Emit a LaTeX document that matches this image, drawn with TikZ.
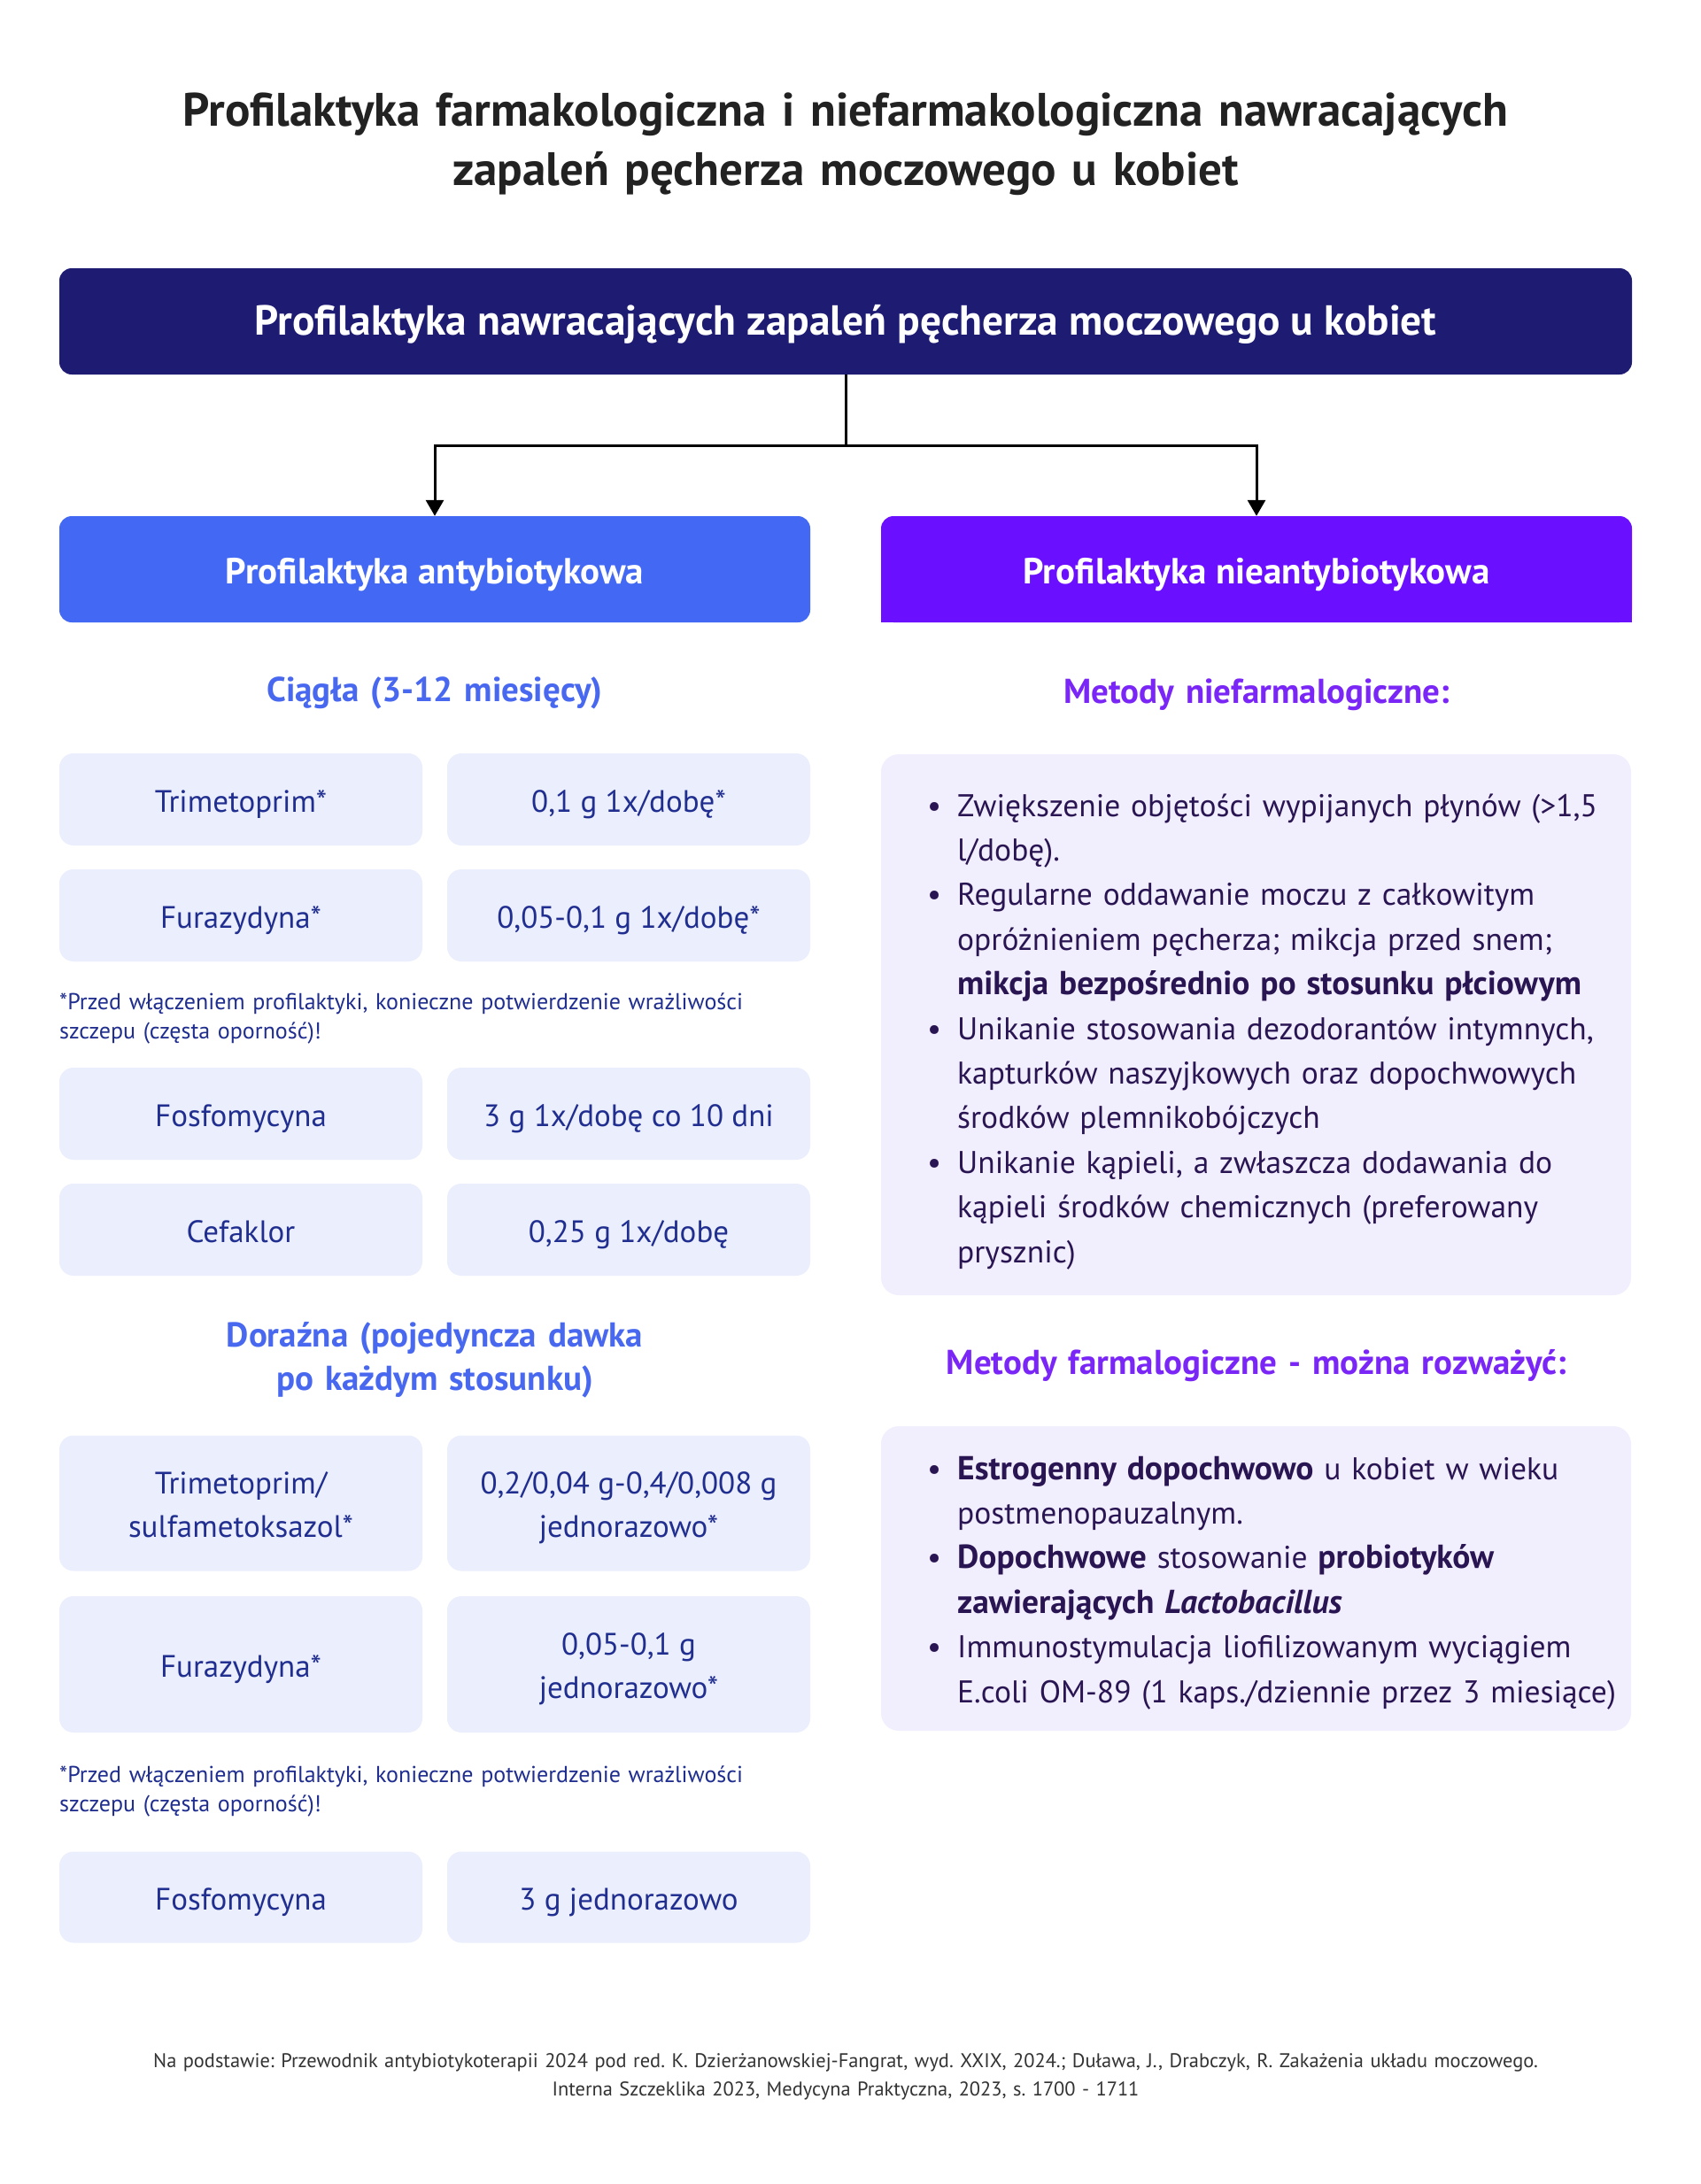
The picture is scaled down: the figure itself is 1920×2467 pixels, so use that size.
\documentclass[tikz,border=0pt]{standalone}
\usepackage{fontspec}
\setmainfont{PT Sans}
\usetikzlibrary{arrows.meta}
\definecolor{titlec}{HTML}{222222}
\definecolor{navy}{HTML}{1D1B72}
\definecolor{vblue}{HTML}{4369F4}
\definecolor{vpurple}{HTML}{6A0FFF}
\definecolor{hblue}{HTML}{4868F0}
\definecolor{hpurple}{HTML}{7A26F6}
\definecolor{lbox}{HTML}{EBEEFD}
\definecolor{ltext}{HTML}{1F2E8F}
\definecolor{pboxc}{HTML}{F1EEFD}
\definecolor{ptext}{HTML}{2A1553}
\definecolor{footc}{HTML}{333333}
\newcommand{\bul}{\makebox[34pt][l]{\textbullet}}
\newcommand{\ind}{\hspace*{34pt}}
\newcommand{\bb}[1]{{\fontsize{37.5}{50.4}\selectfont\bfseries #1}}
\frenchspacing
\begin{document}
\frenchspacing
\begin{tikzpicture}[x=1pt,y=-1pt,
  titlest/.style={text width=1800pt, align=center, text=titlec, inner sep=0pt,
    font=\fontsize{53}{67}\selectfont\bfseries},
  hdrbox/.style={fill=navy, rounded corners=14pt, minimum width=1776pt, minimum height=120pt,
    text=white, inner sep=0pt, text height=38pt, text depth=8pt,
    font=\fontsize{47.4}{54}\selectfont\bfseries},
  colbox/.style={rounded corners=14pt, minimum width=848pt, minimum height=120pt,
    text=white, inner sep=0pt, text height=40pt, text depth=8pt,
    font=\fontsize{41}{48}\selectfont\bfseries},
  conn/.style={line width=3pt, black},
  arr/.style={conn, -{Triangle[length=18pt,width=20pt]}},
  subhd/.style={text width=848pt, align=center, inner sep=0pt,
    font=\fontsize{39}{49}\selectfont\bfseries},
  sbox/.style={fill=lbox, rounded corners=16pt, minimum width=410pt, text=ltext,
    align=center, inner sep=0pt, font=\fontsize{35}{49}\selectfont},
  oneline/.style={text height=36pt, text depth=8pt},
  twoline/.style={text height=85pt, text depth=8pt},
  fnote/.style={text width=840pt, align=left, inner sep=0pt, text=ltext,
    font=\fontsize{26}{33}\selectfont},
  rbox/.style={fill=pboxc, rounded corners=20pt, minimum width=847pt, inner sep=0pt},
  rtext/.style={text width=900pt, align=left, inner sep=0pt, text=ptext,
    font=\fontsize{35.5}{50.4}\selectfont},
  foot/.style={text width=1800pt, align=center, inner sep=0pt, text=footc,
    font=\fontsize{22.4}{32}\selectfont}
]
\path[use as bounding box, fill=white] (0,0) rectangle (1920,2467);

% title
\node[titlest, anchor=base] (title) at (955,143)
  {Profilaktyka farmakologiczna i niefarmakologiczna nawracających\\zapaleń pęcherza moczowego u kobiet};

% header
\node[hdrbox] (hdr) at (955,363) {Profilaktyka nawracających zapaleń pęcherza moczowego u kobiet};

% column headers
\node[colbox, fill=vblue] (lcol) at (491,643) {Profilaktyka antybiotykowa};
\fill[vpurple] (995,643) rectangle (1843,703);
\node[colbox, fill=vpurple] (rcol) at (1419,643) {Profilaktyka nieantybiotykowa};

% connectors
\coordinate (junc) at (955,503);
\draw[conn] (hdr.south) -- (junc);
\draw[arr] (junc) -| (lcol.north);
\draw[arr] (junc) -| (rcol.north);

% left column
\node[subhd, text=hblue, anchor=base] (ciagla) at (491,792) {Ciągła (3-12 miesięcy)};

\node[sbox, oneline, minimum height=104pt] (a1) at (272,903) {Trimetoprim*};
\node[sbox, oneline, minimum height=104pt] (b1) at (710,903) {0,1 g 1x/dobę*};
\node[sbox, oneline, minimum height=104pt] (a2) at (272,1034) {Furazydyna*};
\node[sbox, oneline, minimum height=104pt] (b2) at (710,1034) {0,05-0,1 g 1x/dobę*};

\node[fnote, anchor=base west] (fn1) at (67,1140)
  {*Przed włączeniem profilaktyki, konieczne potwierdzenie wrażliwości\\szczepu (częsta oporność)!};

\node[sbox, oneline, minimum height=104pt] (a3) at (272,1258) {Fosfomycyna};
\node[sbox, oneline, minimum height=104pt] (b3) at (710,1258) {3 g 1x/dobę co 10 dni};
\node[sbox, oneline, minimum height=104pt] (a4) at (272,1389) {Cefaklor};
\node[sbox, oneline, minimum height=104pt] (b4) at (710,1389) {0,25 g 1x/dobę};

\node[subhd, text=hblue, anchor=base] (dorazna) at (491,1521)
  {Doraźna (pojedyncza dawka\\po każdym stosunku)};

\node[sbox, twoline, minimum height=153pt] (a5) at (272,1698) {Trimetoprim/\\sulfametoksazol*};
\node[sbox, twoline, minimum height=153pt] (b5) at (710,1698) {0,2/0,04 g-0,4/0,008 g\\jednorazowo*};
\node[sbox, oneline, minimum height=154pt] (a6) at (272,1880) {Furazydyna*};
\node[sbox, twoline, minimum height=154pt] (b6) at (710,1880) {0,05-0,1 g\\jednorazowo*};

\node[fnote, anchor=base west] (fn2) at (67,2013)
  {*Przed włączeniem profilaktyki, konieczne potwierdzenie wrażliwości\\szczepu (częsta oporność)!};

\node[sbox, oneline, minimum height=103pt] (a7) at (272,2143) {Fosfomycyna};
\node[sbox, oneline, minimum height=103pt] (b7) at (710,2143) {3 g jednorazowo};

% right column
\node[subhd, text=hpurple, anchor=base] (niefarm) at (1419,794) {Metody niefarmalogiczne:};

\node[rbox, minimum height=611pt] (rb1) at (1418.5,1157.5) {};
\node[rtext, anchor=base west] (rt1) at (1047,922)
  {\bul Zwiększenie objętości wypijanych płynów (>1,5\\
   \ind l/dobę).\\
   \bul Regularne oddawanie moczu z całkowitym\\
   \ind opróżnieniem pęcherza; mikcja przed snem;\\
   \ind\bb{mikcja bezpośrednio po stosunku płciowym}\\
   \bul Unikanie stosowania dezodorantów intymnych,\\
   \ind kapturków naszyjkowych oraz dopochwowych\\
   \ind środków plemnikobójczych\\
   \bul Unikanie kąpieli, a zwłaszcza dodawania do\\
   \ind kąpieli środków chemicznych (preferowany\\
   \ind prysznic)};

\node[subhd, text=hpurple, anchor=base] (farm) at (1419,1552) {Metody farmalogiczne - można rozważyć:};

\node[rbox, minimum height=344pt] (rb2) at (1418.5,1783) {};
\node[rtext, anchor=base west] (rt2) at (1047,1671)
  {\bul\bb{Estrogenny dopochwowo} u kobiet w wieku\\
   \ind postmenopauzalnym.\\
   \bul\bb{Dopochwowe} stosowanie \bb{probiotyków}\\
   \ind\bb{zawierających \textit{Lactobacillus}}\\
   \bul Immunostymulacja liofilizowanym wyciągiem\\
   \ind E.coli OM-89 (1 kaps./dziennie przez 3 miesiące)};

% footer
\node[foot, anchor=base] (footer) at (955,2335)
  {Na podstawie: Przewodnik antybiotykoterapii 2024 pod red. K. Dzierżanowskiej-Fangrat, wyd. XXIX, 2024.; Duława, J., Drabczyk, R. Zakażenia układu moczowego.\\Interna Szczeklika 2023, Medycyna Praktyczna, 2023, s. 1700 - 1711};
\end{tikzpicture}
\end{document}
